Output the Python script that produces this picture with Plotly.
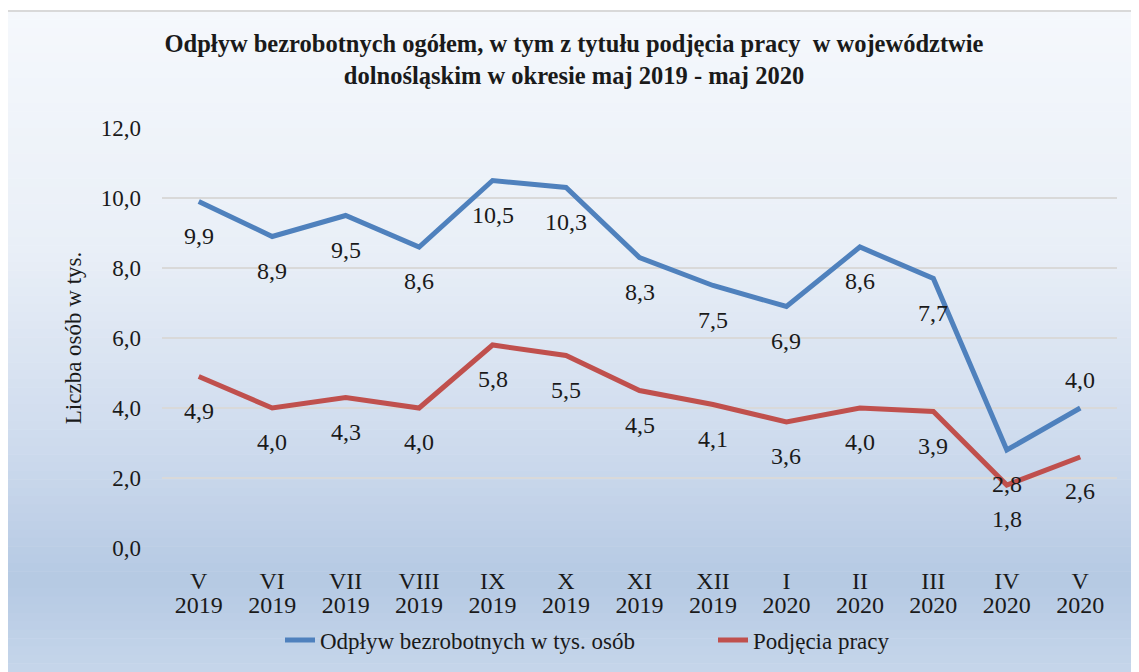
import plotly.graph_objects as go

months = ["V", "VI", "VII", "VIII", "IX", "X", "XI", "XII", "I", "II", "III", "IV", "V"]
years = ["2019", "2019", "2019", "2019", "2019", "2019", "2019", "2019", "2020", "2020", "2020", "2020", "2020"]
odplyw = [9.9, 8.9, 9.5, 8.6, 10.5, 10.3, 8.3, 7.5, 6.9, 8.6, 7.7, 2.8, 4.0]
podjecia = [4.9, 4.0, 4.3, 4.0, 5.8, 5.5, 4.5, 4.1, 3.6, 4.0, 3.9, 1.8, 2.6]
odplyw_label_pos = ["below"] * 12 + ["above"]
podjecia_label_pos = ["below"] * 13
y_ticks = [0, 2, 4, 6, 8, 10, 12]

BLUE = "#4f81bd"
RED = "#c0504d"
FONT = "Liberation Serif"
TXT = "#1a1a1a"

# page has an 8px body margin; figure is offset by it
OFF = 8
W, H = 1139 - OFF, 672 - OFF
ML, MR, MT, MB = 162 - OFF, 22, 128 - OFF, 124
PW, PH = W - ML - MR, H - MT - MB

def px2paper_x(px):
    return (px - OFF - ML) / PW

def px2paper_y(py):
    return 1 - (py - OFF - MT) / PH

def cx(px):
    return (px - OFF) / W

def cy(py):
    return 1 - (py - OFF) / H

idx = list(range(len(months)))

fig = go.Figure()
fig.add_trace(go.Scatter(x=idx, y=odplyw, mode="lines", name="Odpływ bezrobotnych w tys. osób",
                         line=dict(color=BLUE, width=5), legend="legend"))
fig.add_trace(go.Scatter(x=idx, y=podjecia, mode="lines", name="Podjęcia pracy",
                         line=dict(color=RED, width=5), legend="legend2"))

def fmt(v):
    return f"{v:.1f}".replace(".", ",")

annotations = []
for vals, poss in ((odplyw, odplyw_label_pos), (podjecia, podjecia_label_pos)):
    for i, v, p in zip(idx, vals, poss):
        annotations.append(dict(x=i, y=v, xref="x", yref="y", text=fmt(v), showarrow=False,
                                yshift=-34 if p == "below" else 28,
                                font=dict(family=FONT, size=24, color=TXT)))

# gradient background (chart area)
shapes = []
x0p, x1p = px2paper_x(5), px2paper_x(1139 + 20)
stops = [(11, (245, 248, 252)), (250, (233, 239, 247)), (450, (205, 218, 237)),
         (580, (181, 201, 227)), (680, (199, 215, 235))]
N = 80
top, bot = 11, 680
for i in range(N):
    ya = top + (bot - top) * i / N
    yb = top + (bot - top) * (i + 1) / N
    ym = (ya + yb) / 2
    for (s0, c0), (s1, c1) in zip(stops[:-1], stops[1:]):
        if s0 <= ym <= s1:
            t = (ym - s0) / (s1 - s0)
            col = tuple(round(a + (b - a) * t) for a, b in zip(c0, c1))
            break
    shapes.append(dict(type="rect", xref="paper", yref="paper", x0=x0p, x1=x1p,
                       y0=px2paper_y(yb + 0.5), y1=px2paper_y(ya), layer="below",
                       line=dict(width=0), fillcolor=f"rgb{col}"))
shapes.append(dict(type="line", xref="paper", yref="paper", x0=x0p, x1=x1p,
                   y0=px2paper_y(11), y1=px2paper_y(11), layer="below",
                   line=dict(color="#d9d9d9", width=2)))

legend_common = dict(orientation="h", xref="paper", yref="paper", xanchor="left",
                     yanchor="middle", y=px2paper_y(640), font=dict(family=FONT, size=23, color=TXT),
                     bgcolor="rgba(0,0,0,0)", itemwidth=30)

fig.update_layout(
    width=W, height=H,
    margin=dict(l=ML, r=MR, t=MT, b=MB, autoexpand=False),
    paper_bgcolor="white", plot_bgcolor="rgba(0,0,0,0)",
    title=dict(text="<b>Odpływ bezrobotnych ogółem, w tym z tytułu podjęcia pracy  w województwie<br>dolnośląskim w okresie maj 2019 - maj 2020</b>",
               x=cx(574), xref="container", xanchor="center", y=cy(52), yref="container",
               yanchor="middle",
               font=dict(family=FONT, size=24.5, color=TXT)),
    xaxis=dict(range=[-0.5, 12.5], tickvals=idx, ticktext=months, showgrid=False, ticks="",
               showline=False, zeroline=False, ticklabelstandoff=16,
               tickfont=dict(family=FONT, size=24, color=TXT)),
    xaxis2=dict(range=[-0.5, 12.5], tickvals=idx, ticktext=years, overlaying="x", side="bottom",
                anchor="y", showgrid=False, ticks="", showline=False, zeroline=False,
                ticklabelstandoff=40, tickfont=dict(family=FONT, size=24, color=TXT)),
    yaxis=dict(range=[0, 12], tickvals=y_ticks, ticktext=[fmt(v) for v in y_ticks],
               showgrid=True, gridcolor="#d9d9d9", gridwidth=2, zeroline=False, showline=False,
               ticks="", ticklabelstandoff=20,
               tickfont=dict(family=FONT, size=23, color=TXT),
               title=dict(text="Liczba osób w tys.", font=dict(family=FONT, size=23, color=TXT),
                          standoff=12)),
    legend=dict(legend_common, x=px2paper_x(280)),
    legend2=dict(legend_common, x=px2paper_x(713)),
    annotations=annotations,
    shapes=shapes,
    showlegend=True,
)
# invisible trace so that xaxis2 (year row of the category labels) is drawn
fig.add_trace(go.Scatter(x=idx, y=odplyw, xaxis="x2", yaxis="y", mode="lines",
                         line=dict(width=0), opacity=0, showlegend=False, hoverinfo="skip"))
fig.write_html("out.html")
